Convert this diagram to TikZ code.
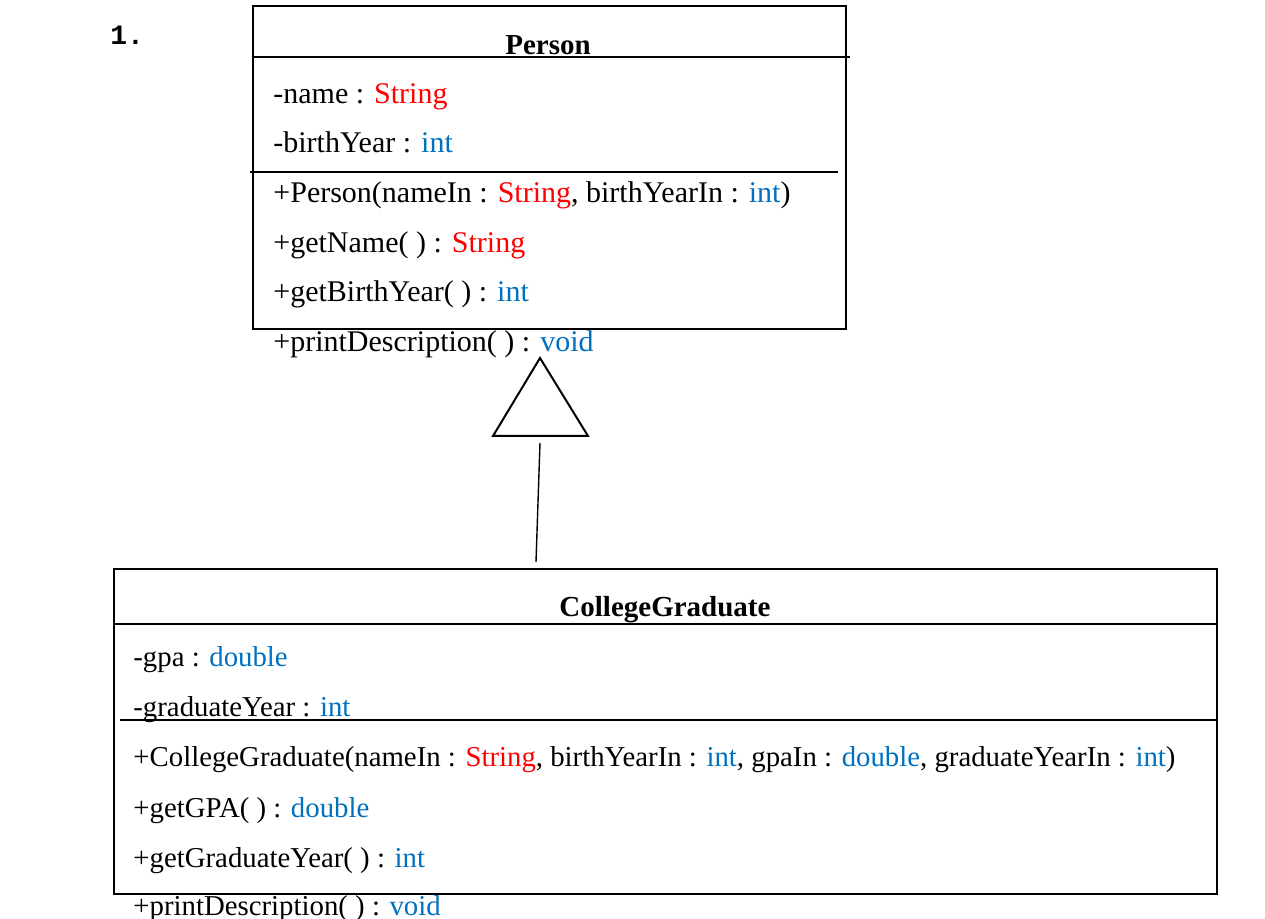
\documentclass[tikz,border=0pt]{standalone}
\usepackage{fontspec}
\setmainfont{Liberation Serif}
\setmonofont{Liberation Mono}
\usepackage{xcolor}
\definecolor{typered}{HTML}{FF0000}
\definecolor{typeblue}{HTML}{0070C0}
\newcommand{\tred}[1]{\textcolor{typered}{#1}}
\newcommand{\tblue}[1]{\textcolor{typeblue}{#1}}
\tikzset{
  umlbox/.style={draw, line width=1pt, inner sep=0pt, anchor=north west},
  member/.style={anchor=base west, inner sep=0pt, font=\fontsize{15}{17}\selectfont},
  gmember/.style={member, font=\fontsize{14.4}{16}\selectfont},
  title/.style={anchor=base, inner sep=0pt, font=\fontsize{14.5}{16}\selectfont\bfseries},
}
\begin{document}
\begin{tikzpicture}[x=0.5pt,y=-0.5pt]
                \useasboundingbox (0,0) rectangle (1265,919);
                \node[anchor=base west, inner sep=0pt, font=\ttfamily\bfseries\fontsize{14}{16}\selectfont] (num) at (110,45) {1.};
                % Person
                \node[umlbox, minimum width=296.5pt, minimum height=161.5pt] (person) at (252,5) {};
                \draw[line width=0.8pt] (252,57)--(850,57);
                \draw[line width=0.8pt] (250,172)--(838,172);
                \node[title] (ptitle) at (548,55) {Person};
                \node[member] (pname)  at (273,104) {-name : \tred{String}};
                \node[member] (pyear)  at (273,153) {-birthYear : \tblue{int}};
                \node[member] (pctor)  at (273,203) {+Person(nameIn : \tred{String}, birthYearIn : \tblue{int})};
                \node[member] (pgetn)  at (273,253) {+getName( ) : \tred{String}};
                \node[member] (pgety)  at (273,302) {+getBirthYear( ) : \tblue{int}};
                \node[member] (pprint) at (273,352) {+printDescription( ) : \tblue{void}};
                % inheritance
                \coordinate (apex) at (540,358);
                \coordinate (lineTop) at (540,443);
                \coordinate (lineBot) at (536,562);
                \draw[line width=1pt, line join=miter] (apex)--(588,436)--(493,436)--cycle;
                \draw[line width=0.7pt] (lineTop)--(lineBot);
                % CollegeGraduate
                \node[umlbox, minimum width=551.5pt, minimum height=162.5pt] (grad) at (113,568) {};
                \draw[line width=0.8pt] (113,624)--(1216,624);
                \draw[line width=0.8pt] (120,720)--(1218,720);
                \node[title] (gtitle) at (665,617) {CollegeGraduate};
                \node[gmember] (ggpa)   at (133,667) {-gpa : \tblue{double}};
                \node[gmember] (gyear)  at (133,717) {-graduateYear : \tblue{int}};
                \node[gmember] (gctor)  at (133,767) {+CollegeGraduate(nameIn : \tred{String}, birthYearIn : \tblue{int}, gpaIn : \tblue{double}, graduateYearIn : \tblue{int})};
                \node[gmember] (ggpa2)  at (133,817) {+getGPA( ) : \tblue{double}};
                \node[gmember] (ggety)  at (133,867) {+getGraduateYear( ) : \tblue{int}};
                \node[gmember] (gprint) at (133,915) {+printDescription( ) : \tblue{void}};
            \end{tikzpicture}
\end{document}
